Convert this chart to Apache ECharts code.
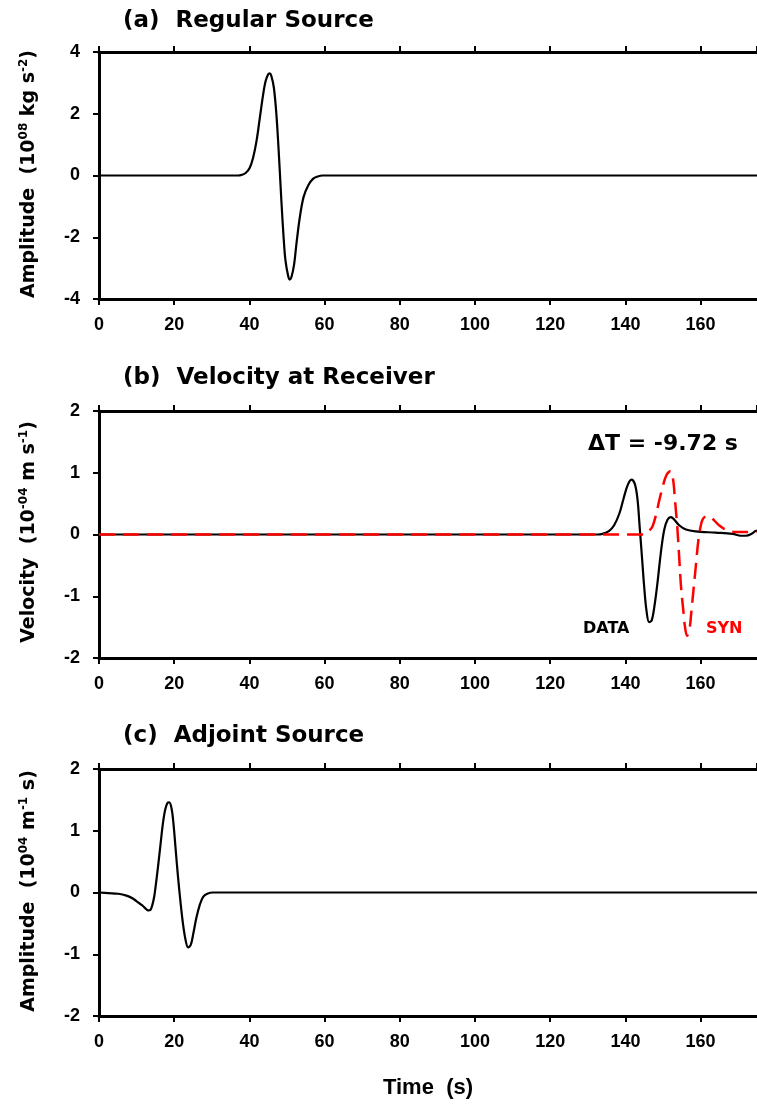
<!DOCTYPE html>
<html lang="en">
<head>
    <meta charset="UTF-8">
    <title>Regular / Adjoint Source</title>
    <script src="https://cdn.jsdelivr.net/npm/echarts@6/dist/echarts.min.js"></script>
    <style>
        html, body { margin: 0; padding: 0; background: #fff; }
        #chart { width: 757px; height: 1105px; }
    </style>
</head>
<body>
<div id="chart"></div>
<script>
    // (a) regular source, 10^08 kg s^-2
    const timeA = [0, 37.0, 37.9, 39.0, 40.1, 41.0, 41.9, 42.7, 43.6, 44.3, 45.0, 45.4, 45.8, 46.5, 47.2, 47.9, 48.5, 49.1, 49.6, 50.3, 50.7, 51.2, 51.9, 52.5, 53.4, 54.4, 55.6, 56.9, 58.2, 59.5, 175];
    const ampA = [0, 0, 0.02, 0.08, 0.25, 0.58, 1.12, 1.80, 2.58, 3.05, 3.28, 3.31, 3.24, 2.85, 1.95, 0.55, -0.81, -2.01, -2.76, -3.25, -3.37, -3.28, -2.87, -2.22, -1.36, -0.70, -0.33, -0.11, -0.03, 0, 0];

    // (b) velocity at receiver, 10^-04 m s^-1
    const timeData = [0, 132.5, 133.9, 135.7, 137.0, 138.4, 139.5, 140.6, 141.6, 142.5, 143.2, 143.8, 144.4, 145.0, 145.6, 146.3, 147.0, 147.7, 148.5, 149.4, 150.3, 151.2, 152.1, 153.0, 154.3, 156.1, 158.7, 164.0, 168.5, 170.7, 172.0, 173.8, 174.7, 175];
    const velData = [0, 0, 0.01, 0.06, 0.15, 0.34, 0.58, 0.80, 0.89, 0.82, 0.58, 0.12, -0.36, -0.85, -1.23, -1.42, -1.39, -1.17, -0.80, -0.31, 0.07, 0.24, 0.28, 0.24, 0.15, 0.08, 0.05, 0.03, 0.01, -0.02, -0.02, 0.02, 0.06, 0.06];
    const timeSyn = [0, 144.5, 145.4, 146.3, 147.2, 148.1, 149.0, 149.9, 150.9, 152.0, 152.7, 153.2, 153.8, 154.3, 154.8, 155.4, 155.9, 156.4, 157.0, 157.5, 158.1, 158.7, 159.3, 159.9, 160.5, 161.4, 162.4, 163.6, 164.9, 166.7, 169.4, 172.0, 175];
    const velSyn = [0, 0, 0.01, 0.06, 0.13, 0.31, 0.55, 0.77, 0.96, 1.03, 0.88, 0.55, 0.12, -0.36, -0.85, -1.23, -1.52, -1.64, -1.55, -1.28, -0.90, -0.53, -0.15, 0.10, 0.24, 0.29, 0.29, 0.23, 0.15, 0.08, 0.04, 0.04, 0.04];

    // (c) adjoint source, 10^04 m^-1 s
    const timeAdj = [0, 2.5, 5.1, 7.3, 9.1, 10.4, 11.5, 12.4, 13.1, 13.7, 14.2, 14.7, 15.1, 15.7, 16.4, 17.0, 17.6, 18.2, 18.7, 19.3, 19.8, 20.4, 21.0, 21.7, 22.3, 23.0, 23.7, 24.4, 25.1, 25.9, 26.8, 27.7, 28.8, 30.3, 175];
    const ampAdj = [0, -0.01, -0.02, -0.05, -0.10, -0.16, -0.21, -0.26, -0.29, -0.28, -0.20, -0.06, 0.12, 0.42, 0.80, 1.12, 1.34, 1.45, 1.46, 1.36, 1.12, 0.69, 0.26, -0.17, -0.49, -0.76, -0.89, -0.85, -0.66, -0.41, -0.20, -0.07, -0.02, 0, 0];

    const yRanges = [[-4, 4, 2], [-2, 2, 1], [-2, 2, 1]];
    const gridTops = [52, 411, 769];

    function zip(xs, ys) {
        return xs.map((x, i) => [x, ys[i]]);
    }

    const tickFont = {fontFamily: 'Liberation Sans', fontWeight: 'bold', fontSize: 18, color: '#000'};
    const axisLine = {show: true, onZero: false, lineStyle: {color: '#000', width: 3}};
    const axisTick = {show: true, inside: false, length: 6, lineStyle: {color: '#000', width: 2}};

    const grids = [], xAxes = [], yAxes = [];
    gridTops.forEach((top, i) => {
        grids.push({left: 99, top: top, width: 659, height: 247});
        // bottom axis with labels
        xAxes.push({
            type: 'value', gridIndex: i, position: 'bottom', min: 0, max: 175, interval: 20,
            axisLine: axisLine, axisTick: axisTick, splitLine: {show: false},
            axisLabel: Object.assign({margin: 17, showMaxLabel: false}, tickFont)
        });
        // top frame
        xAxes.push({
            type: 'value', gridIndex: i, position: 'top', min: 0, max: 175, interval: 20,
            axisLine: axisLine, axisTick: axisTick, splitLine: {show: false},
            axisLabel: {show: false}
        });
        yAxes.push({
            type: 'value', gridIndex: i, min: yRanges[i][0], max: yRanges[i][1], interval: yRanges[i][2],
            axisLine: axisLine, axisTick: axisTick, splitLine: {show: false},
            axisLabel: Object.assign({margin: 19}, tickFont)
        });
    });

    function trace(xIdx, yIdx, data, color, dashed) {
        return {
            type: 'line', xAxisIndex: xIdx, yAxisIndex: yIdx, data: data,
            showSymbol: false, smooth: 0.35, animation: false,
            lineStyle: {color: color, width: dashed ? 2.5 : 2.2, type: dashed ? [16, 8] : 'solid'}
        };
    }

    const titleFont = 'bold 23px "DejaVu Sans"';
    const sideFont = 'bold 19px "DejaVu Sans"';
    const supStyle = {fontFamily: 'DejaVu Sans', fontWeight: 'bold', fontSize: 12, padding: [0, 0, 10, 0]};

    function sideLabel(y, text) {
        return {
            type: 'text', x: 29, y: y, rotation: Math.PI / 2,
            style: {text: text, font: sideFont, fill: '#000', align: 'center', verticalAlign: 'middle', rich: {s: supStyle}}
        };
    }

    function plainText(x, y, text, font, color, align) {
        return {
            type: 'text', x: x, y: y,
            style: {text: text, font: font, fill: color || '#000', align: align || 'left', verticalAlign: 'middle'}
        };
    }

    const chart = echarts.init(document.getElementById('chart'), null, {renderer: 'canvas'});
    chart.setOption({
        backgroundColor: '#fff',
        animation: false,
        grid: grids,
        xAxis: xAxes,
        yAxis: yAxes,
        series: [
            trace(0, 0, zip(timeA, ampA), '#000', false),
            trace(2, 1, zip(timeData, velData), '#000', false),
            trace(2, 1, zip(timeSyn, velSyn), '#ff0000', true),
            trace(4, 2, zip(timeAdj, ampAdj), '#000', false)
        ],
        graphic: [
            plainText(123, 21, '(a)  Regular Source', titleFont),
            plainText(123, 378, '(b)  Velocity at Receiver', titleFont),
            plainText(123, 736, '(c)  Adjoint Source', titleFont),
            plainText(588, 444, '\u0394T = -9.72 s', 'bold 22px "DejaVu Sans"'),
            plainText(583, 629, 'DATA', 'bold 16px "DejaVu Sans"'),
            plainText(706, 629, 'SYN', 'bold 16px "DejaVu Sans"', '#ff0000'),
            plainText(428, 1088, 'Time  (s)', 'bold 22px "Liberation Sans"', '#000', 'center'),
            sideLabel(174, 'Amplitude  (10{s|08} kg s{s|-2})'),
            sideLabel(532, 'Velocity  (10{s|-04} m s{s|-1})'),
            sideLabel(891, 'Amplitude  (10{s|04} m{s|-1} s)')
        ]
    });
</script>
</body>
</html>
